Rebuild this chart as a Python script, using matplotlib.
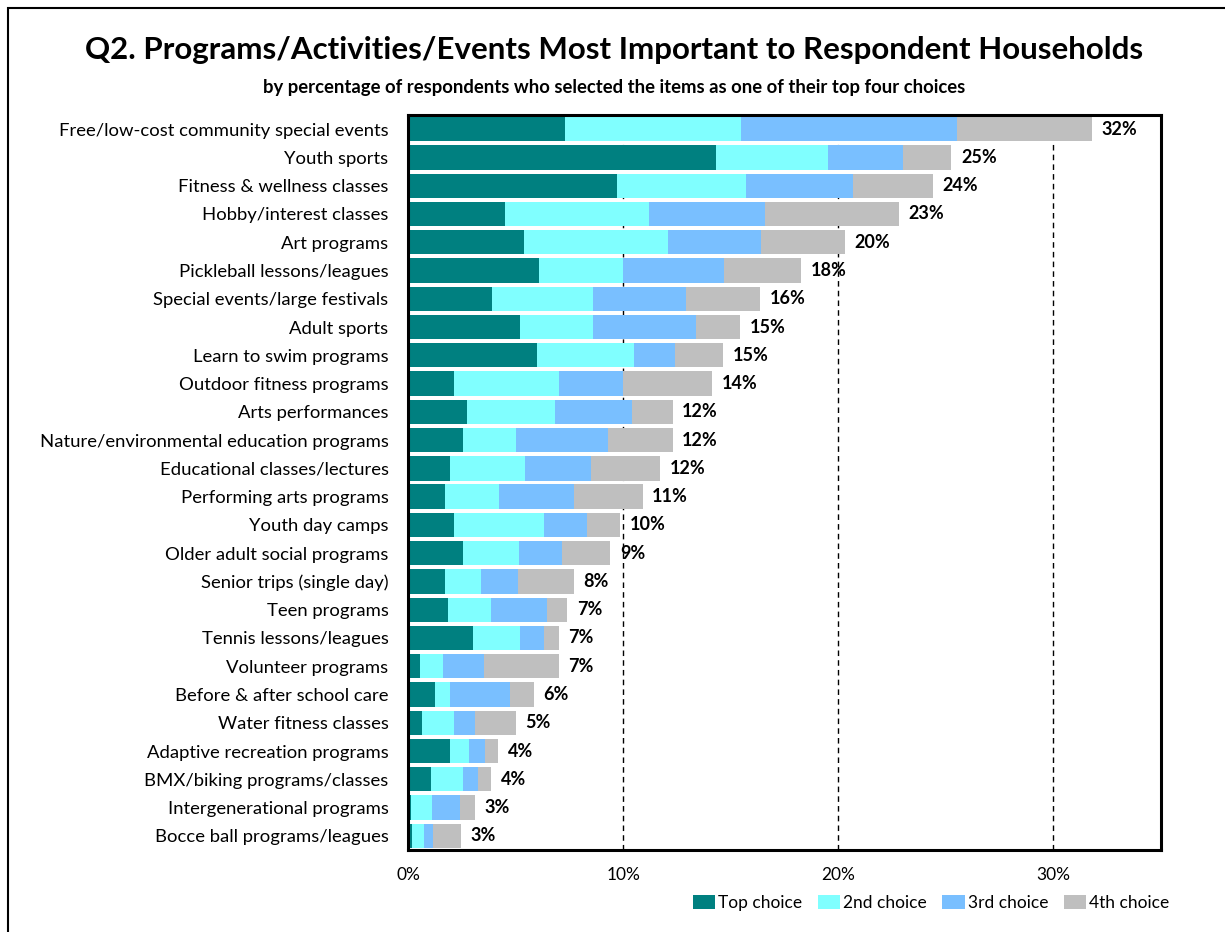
import numpy as np
import matplotlib.pyplot as plt
from matplotlib.patches import Rectangle

plt.rcParams["font.family"] = ["Lato", "DejaVu Sans"]

# data (percent of respondents)
categories = [
    "Free/low-cost community special events", "Youth sports", "Fitness & wellness classes",
    "Hobby/interest classes", "Art programs", "Pickleball lessons/leagues",
    "Special events/large festivals", "Adult sports", "Learn to swim programs",
    "Outdoor fitness programs", "Arts performances", "Nature/environmental education programs",
    "Educational classes/lectures", "Performing arts programs", "Youth day camps",
    "Older adult social programs", "Senior trips (single day)", "Teen programs",
    "Tennis lessons/leagues", "Volunteer programs", "Before & after school care",
    "Water fitness classes", "Adaptive recreation programs", "BMX/biking programs/classes",
    "Intergenerational programs", "Bocce ball programs/leagues",
]
top_choice = [7.3, 14.3, 9.7, 4.5, 5.4, 6.1, 3.9, 5.2, 6.0, 2.15, 2.75, 2.55, 1.95,
              1.7, 2.15, 2.55, 1.7, 1.85, 3.0, 0.55, 1.25, 0.65, 1.95, 1.05, 0.15, 0.2]
second_choice = [8.2, 5.2, 6.0, 6.7, 6.7, 3.9, 4.7, 3.4, 4.5, 4.85, 4.1, 2.45, 3.5,
                 2.55, 4.15, 2.6, 1.7, 2.0, 2.2, 1.1, 0.7, 1.5, 0.9, 1.5, 0.95, 0.55]
third_choice = [10.0, 3.5, 5.0, 5.4, 4.3, 4.7, 4.3, 4.8, 1.9, 3.0, 3.55, 4.3, 3.05,
                3.45, 2.0, 2.0, 1.7, 2.6, 1.1, 1.9, 2.8, 0.95, 0.75, 0.7, 1.3, 0.4]
fourth_choice = [6.3, 2.25, 3.7, 6.2, 3.9, 3.55, 3.45, 2.05, 2.25, 4.15, 1.9, 3.0, 3.2,
                 3.2, 1.55, 2.25, 2.6, 0.95, 0.7, 3.45, 1.1, 1.9, 0.6, 0.6, 0.7, 1.3]
total_labels = ["32%", "25%", "24%", "23%", "20%", "18%", "16%", "15%", "15%", "14%",
                "12%", "12%", "12%", "11%", "10%", "9%", "8%", "7%", "7%", "7%",
                "6%", "5%", "4%", "4%", "3%", "3%"]

series = [top_choice, second_choice, third_choice, fourth_choice]
names = ["Top choice", "2nd choice", "3rd choice", "4th choice"]
colors = ["#008080", "#80FFFF", "#79BFFF", "#BFBFBF"]

fig = plt.figure(figsize=(12.25, 9.32), dpi=100)
ax = fig.add_axes([408/1225, 1 - 850/932, (1161-408)/1225, (850-115)/932])

y = np.arange(len(categories))
left = np.zeros(len(categories))
for vals, name, col in zip(series, names, colors):
    ax.barh(y, vals, left=left, height=0.86, color=col, label=name, zorder=2)
    left += np.array(vals)

for yi, tot, lab in zip(y, left, total_labels):
    ax.text(tot + 0.45, yi, lab, va="center", ha="left", fontsize=13, fontweight="bold")

ax.set_ylim(len(categories) - 0.5, -0.5)
ax.set_xlim(0, 35)
ax.set_xticks([0, 10, 20, 30])
ax.set_xticklabels(["0%", "10%", "20%", "30%"], fontsize=12.5)
ax.set_yticks(y)
ax.set_yticklabels(categories, fontsize=13.3)
ax.tick_params(axis="y", length=0, pad=14)
ax.tick_params(axis="x", length=0, pad=12)
for xv in [10, 20, 30]:
    ax.axvline(xv, color="black", lw=1, ls=(0, (4, 3)), zorder=1)
for sp in ax.spines.values():
    sp.set_linewidth(2.2)
    sp.set_color("black")

fig.text(0.5 * (88 + 1140) / 1225, 1 - 50/932,
         "Q2. Programs/Activities/Events Most Important to Respondent Households",
         ha="center", va="center", fontsize=22.5, fontweight="bold")
fig.text(0.5 * (258 + 970) / 1225, 1 - 88/932,
         "by percentage of respondents who selected the items as one of their top four choices",
         ha="center", va="center", fontsize=13.3, fontweight="bold")

fig.legend(loc="center right", bbox_to_anchor=(1176/1225, 1 - 903/932), ncol=4,
           frameon=False, fontsize=12.5, handlelength=1.3, handleheight=0.9,
           handletextpad=0.15, columnspacing=0.9, borderaxespad=0)

fig.patches.append(Rectangle((8/1225, -0.05), 1.1, 1 - 8/932 + 0.05, transform=fig.transFigure,
                             fill=False, edgecolor="black", lw=1.5))

fig.savefig("out.png", dpi=100)
